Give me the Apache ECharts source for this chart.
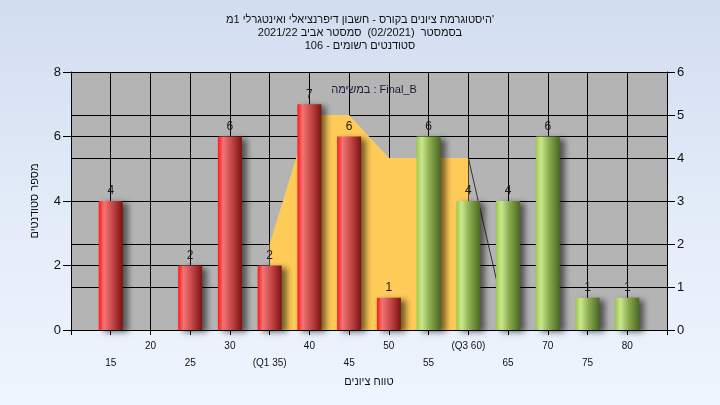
<!DOCTYPE html>
<html><head><meta charset="utf-8">
<script src="https://cdn.jsdelivr.net/npm/echarts@6/dist/echarts.min.js"></script>
<style>
html,body{margin:0;padding:0;}
body{background:linear-gradient(to bottom,#d2ddf0 0%,#e2ebf8 50%,#eef5fe 100%);}
#c{width:720px;height:405px;}
</style>
</head><body><div id="c"></div>
<script>
const titleLines = [
  "היסטוגרמת ציונים בקורס - חשבון דיפרנציאלי ואינטגרלי 1מ'",
  "בסמסטר  (02/2021)  סמסטר אביב 2021/22",
  "סטודנטים רשומים - 106"
];
const subtitleText = 'במשימה : Final_B';
const xAxisName = 'טווח ציונים';
const yAxisName = 'מספר סטודנטים';
const scoreBins = [15,20,25,30,35,40,45,50,55,60,65,70,75,80];
const studentCounts = [4,0,2,6,2,7,6,1,6,4,4,6,1,1];
const binLabels = ['15','20','25','30','(Q1 35)','40','45','50','55','(Q3 60)','65','70','75','80'];
const passThreshold = 55;
const areaBins = [35,40,45,50,55,60];
const areaValues = [2,5,5,4,4,4];
const dropBins = [60,65];
const dropValues = [4,0];
const leftAxisMax = 8, leftAxisStep = 2;
const rightAxisMax = 6, rightAxisStep = 1;

const FONT = "'Liberation Sans', Arial, sans-serif";
const grad = (stops) => ({type:'linear',x:0,y:0,x2:1,y2:0,colorStops:stops.map(s=>({offset:s[0],color:s[1]}))});
const redGrad = grad([[0,'#ff1818'],[0.22,'#f27474'],[0.55,'#c94a4a'],[1,'#7c1212']]);
const greenGrad = grad([[0,'#9ccb46'],[0.22,'#cbe690'],[0.55,'#8aac4e'],[1,'#4a6824']]);

const barData = scoreBins.map((b,i)=>({
  value:[b, studentCounts[i]],
  itemStyle:{color: b >= passThreshold ? greenGrad : redGrad}
}));

const chart = echarts.init(document.getElementById('c'), null, {renderer:'canvas'});
chart.setOption({
  backgroundColor:'transparent',
  animation:false,
  textStyle:{fontFamily:FONT},
  title:[
    {text:titleLines.join('\n'), left:'center', top:8,
     textStyle:{fontFamily:FONT,fontSize:11,fontWeight:'normal',color:'#111',lineHeight:13}},
    {text:subtitleText, left:369, top:79, textAlign:'center',
     textStyle:{fontFamily:FONT,fontSize:11,fontWeight:'normal',color:'#1a1a3a'}}
  ],
  grid:{left:71,right:53,top:72,bottom:75,show:true,backgroundColor:'#b4b4b4',borderWidth:0},
  xAxis:{
    type:'value', min:10, max:85, interval:5,
    name:xAxisName, nameLocation:'middle', nameGap:46,
    nameTextStyle:{fontFamily:FONT,fontSize:11,color:'#111'},
    axisLine:{show:true,lineStyle:{color:'#000',width:1}},
    axisTick:{show:true,length:5,lineStyle:{color:'#000'}},
    axisLabel:{
      fontFamily:FONT,fontSize:10,color:'#111',margin:8,lineHeight:17,
      formatter:(v)=>{const i=scoreBins.indexOf(v); if(i<0) return ''; return (i%2===0?'\n':'')+binLabels[i];}
    },
    splitLine:{show:true,lineStyle:{color:'#000',width:1}}
  },
  yAxis:[
    {type:'value', min:0, max:leftAxisMax, interval:leftAxisStep, position:'left',
     name:yAxisName, nameLocation:'middle', nameGap:31,
     nameTextStyle:{fontFamily:FONT,fontSize:11,color:'#111'},
     axisLine:{show:true,lineStyle:{color:'#000'}},
     axisTick:{show:true,length:8,lineStyle:{color:'#000'}},
     axisLabel:{fontFamily:FONT,fontSize:13,color:'#111',margin:10},
     splitLine:{show:true,lineStyle:{color:'#000',width:1}}},
    {type:'value', min:0, max:rightAxisMax, interval:rightAxisStep, position:'right',
     axisLine:{show:true,lineStyle:{color:'#000'}},
     axisTick:{show:true,length:8,lineStyle:{color:'#000'}},
     axisLabel:{fontFamily:FONT,fontSize:13,color:'#111',margin:10},
     splitLine:{show:true,lineStyle:{color:'#000',width:1}}}
  ],
  series:[
    {type:'line', yAxisIndex:1, z:1, symbol:'none', silent:true,
     data:areaBins.map((b,i)=>[b,areaValues[i]]),
     lineStyle:{width:0}, areaStyle:{color:'#ffcb58',opacity:1}},
    {type:'line', yAxisIndex:1, z:1, symbol:'none', silent:true,
     data:dropBins.map((b,i)=>[b,dropValues[i]]),
     lineStyle:{color:'#333',width:1}},
    {type:'bar', yAxisIndex:0, z:3, barWidth:24, clip:false,
     data:barData,
     itemStyle:{shadowColor:'rgba(0,0,0,0.55)',shadowBlur:6,shadowOffsetX:5,shadowOffsetY:2},
     label:{show:true,position:'top',distance:4,fontFamily:FONT,fontSize:12,color:'#1a1a1a',
       formatter:(p)=>p.value[1]>0?String(p.value[1]):''}}
  ]
});
</script>
</body></html>
